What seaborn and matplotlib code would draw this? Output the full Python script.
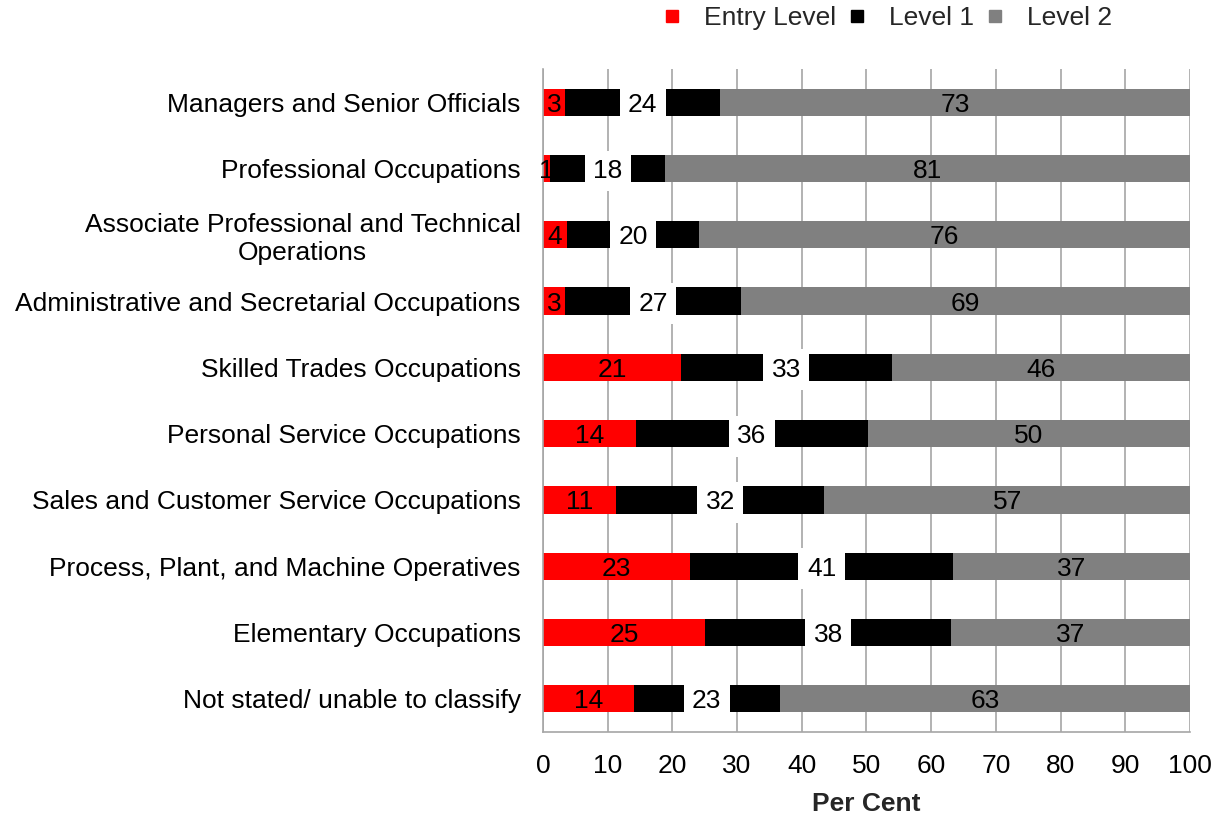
import pandas as pd
import seaborn as sns
import matplotlib.pyplot as plt
from matplotlib.lines import Line2D

occupations = [
    'Managers and Senior Officials',
    'Professional Occupations',
    'Associate Professional and Technical\nOperations',
    'Administrative and Secretarial Occupations',
    'Skilled Trades Occupations',
    'Personal Service Occupations',
    'Sales and Customer Service Occupations',
    'Process, Plant, and Machine Operatives',
    'Elementary Occupations',
    'Not stated/ unable to classify',
]
entry_level = [3.4, 1.1, 3.7, 3.4, 21.3, 14.4, 11.3, 22.7, 25.1, 14.0]
level_1 = [24.0, 17.8, 20.4, 27.2, 32.6, 35.8, 32.2, 40.7, 38.0, 22.6]
level_2 = [72.6, 81.1, 75.9, 69.4, 46.1, 49.8, 56.5, 36.6, 36.9, 63.4]

series_names = ['Entry Level', 'Level 1', 'Level 2']
series_colors = ['#ff0000', '#000000', '#808080']

sns.set_style('white')
plt.rcParams['font.family'] = ['Liberation Sans', 'DejaVu Sans']

df = pd.DataFrame({'occupation': occupations, 'entry': entry_level,
                   'l1': level_1, 'l2': level_2})
df['cum1'] = df['entry']
df['cum2'] = df['entry'] + df['l1']
df['cum3'] = df['cum2'] + df['l2']


def lab(v):
    return str(int(v + 0.5))


fig = plt.figure(figsize=(12.23, 8.14), dpi=100)
ax = fig.add_axes([0.444, 0.1007, 0.529, 0.8145])

# stacked bars drawn as layered cumulative totals
for col, c in [('cum3', series_colors[2]), ('cum2', series_colors[1]), ('cum1', series_colors[0])]:
    sns.barplot(data=df, x=col, y='occupation', color=c, saturation=1,
                width=0.41, linewidth=0, ax=ax)

fs = 19
for i, row in df.iterrows():
    ax.text(row['entry'] / 2, i, lab(row['entry']), ha='center', va='center_baseline',
            fontsize=fs, color='black')
    ax.text(row['entry'] + row['l1'] / 2, i, lab(row['l1']), ha='center',
            va='center_baseline', fontsize=fs, color='black',
            bbox=dict(facecolor='white', edgecolor='none', pad=6))
    ax.text(row['cum2'] + row['l2'] / 2, i, lab(row['l2']), ha='center',
            va='center_baseline', fontsize=fs, color='black')

ax.set_xlim(0, 100)
ax.set_xticks(range(0, 101, 10))
ax.set_axisbelow(True)
ax.grid(axis='x', color='#a6a6a6', linewidth=1.2)
ax.grid(axis='y', visible=False)
for s in ['top', 'right']:
    ax.spines[s].set_visible(False)
ax.spines['left'].set_color('#a6a6a6')
ax.spines['bottom'].set_color('#a6a6a6')
ax.spines['left'].set_linewidth(1.2)
ax.spines['bottom'].set_linewidth(1.2)
ax.tick_params(axis='x', length=6, width=1.2, color='#a6a6a6', labelsize=fs, pad=10,
               labelcolor='black')
ax.tick_params(axis='y', length=0, labelsize=fs, pad=16, labelcolor='black')
for t in ax.get_yticklabels():
    t.set_multialignment('center')
ax.set_ylabel('')
ax.set_xlabel('Per Cent', fontsize=fs, fontweight='bold', labelpad=10)

handles = [Line2D([], [], marker='s', linestyle='none', markersize=8.5,
                  markerfacecolor=c, markeredgecolor=c) for c in series_colors]
fig.legend(handles, series_names, loc='center', bbox_to_anchor=(0.724, 0.978),
           ncol=3, frameon=False, fontsize=fs, handletextpad=0.7,
           columnspacing=0.3, handlelength=1.0)

fig.savefig('out.png', dpi=100)
